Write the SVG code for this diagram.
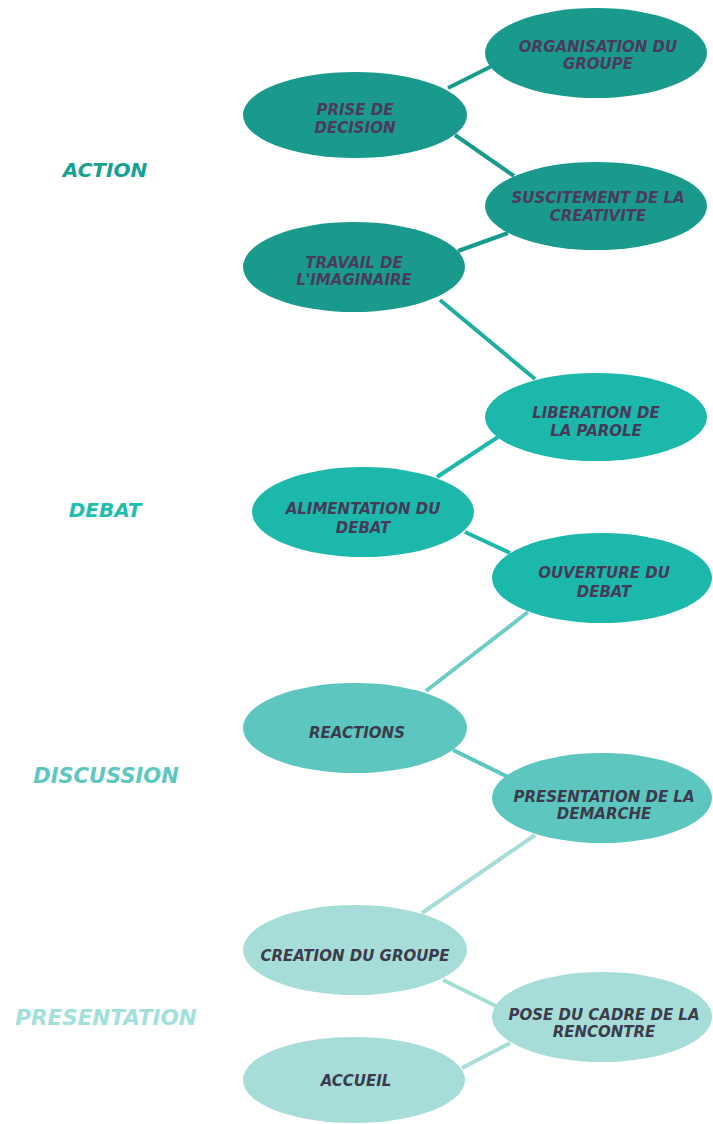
<svg xmlns="http://www.w3.org/2000/svg" width="713" height="1124" viewBox="0 0 713 1124">
<style>
.n text{font-family:"DejaVu Sans",Verdana,sans-serif;font-weight:bold;font-style:italic;font-size:15px;text-anchor:middle}
.a ellipse{fill:#1a9a8c}.a text{fill:#4a3a5c}
.d ellipse{fill:#1cb8ac}.d text{fill:#453a58}
.s ellipse{fill:#5cc6bf}.s text{fill:#3b3b4b}
.p ellipse{fill:#a6ddd9}.p text{fill:#3b3b4b}
.lbl{font-family:"DejaVu Sans",Verdana,sans-serif;font-weight:bold;font-style:italic;font-size:20px;text-anchor:middle}
#connectors line{stroke-width:4;stroke-linecap:butt}
</style>
<rect width="713" height="1124" fill="#ffffff"/>
<g id="connectors">
<line x1="448" y1="88" x2="492" y2="66" stroke="#1a9a8c"/>
<line x1="455" y1="135" x2="514" y2="176" stroke="#1a9a8c"/>
<line x1="458" y1="251" x2="508" y2="233" stroke="#1a9a8c"/>
<line x1="440" y1="300" x2="535" y2="379" stroke="#20ada2"/>
<line x1="437" y1="477" x2="498" y2="437" stroke="#1cb8ac"/>
<line x1="465" y1="532" x2="510" y2="553" stroke="#1cb8ac"/>
<line x1="528" y1="612" x2="426" y2="691" stroke="#6dcdc6"/>
<line x1="453" y1="750" x2="508" y2="777" stroke="#5cc6bf"/>
<line x1="535" y1="835" x2="422" y2="913" stroke="#a6ddd9"/>
<line x1="443" y1="980" x2="498" y2="1007" stroke="#a6ddd9"/>
<line x1="462" y1="1068" x2="510" y2="1043" stroke="#a6ddd9"/>
</g>
<text class="lbl" x="105" y="177" fill="#17a08f">ACTION</text>
<text class="lbl" x="105" y="517" fill="#1ebdb0">DEBAT</text>
<text class="lbl" x="106" y="783" fill="#5ec8c0" style="font-size:21px">DISCUSSION</text>
<text class="lbl" x="106" y="1025" fill="#a2e0dc" style="font-size:21.5px">PRESENTATION</text>
<g id="n-organisation" class="n a"><ellipse cx="596" cy="53" rx="111" ry="45"/><text x="598" y="52">ORGANISATION DU</text><text x="598" y="69">GROUPE</text></g>
<g id="n-prise" class="n a"><ellipse cx="355" cy="115" rx="112" ry="43"/><text x="355" y="115">PRISE DE</text><text x="355" y="133">DECISION</text></g>
<g id="n-suscitement" class="n a"><ellipse cx="596" cy="206" rx="111" ry="44"/><text x="598" y="203">SUSCITEMENT DE LA</text><text x="598" y="221">CREATIVITE</text></g>
<g id="n-travail" class="n a"><ellipse cx="354" cy="267" rx="111" ry="45"/><text x="354" y="268">TRAVAIL DE</text><text x="354" y="285">L'IMAGINAIRE</text></g>
<g id="n-liberation" class="n d"><ellipse cx="596" cy="417" rx="111" ry="44"/><text x="596" y="418">LIBERATION DE</text><text x="596" y="436">LA PAROLE</text></g>
<g id="n-alimentation" class="n d"><ellipse cx="363" cy="512" rx="111" ry="45"/><text x="363" y="514">ALIMENTATION DU</text><text x="363" y="533">DEBAT</text></g>
<g id="n-ouverture" class="n d"><ellipse cx="602" cy="578" rx="110" ry="45"/><text x="604" y="578">OUVERTURE DU</text><text x="604" y="597">DEBAT</text></g>
<g id="n-reactions" class="n s"><ellipse cx="355" cy="728" rx="112" ry="45"/><text x="357" y="738">REACTIONS</text></g>
<g id="n-demarche" class="n s"><ellipse cx="602" cy="798" rx="110" ry="45"/><text x="604" y="802">PRESENTATION DE LA</text><text x="604" y="819">DEMARCHE</text></g>
<g id="n-creation" class="n p"><ellipse cx="355" cy="950" rx="112" ry="45"/><text x="355" y="961">CREATION DU GROUPE</text></g>
<g id="n-pose" class="n p"><ellipse cx="602" cy="1017" rx="110" ry="45"/><text x="604" y="1020">POSE DU CADRE DE LA</text><text x="604" y="1037">RENCONTRE</text></g>
<g id="n-accueil" class="n p"><ellipse cx="354" cy="1080" rx="111" ry="43"/><text x="356" y="1086">ACCUEIL</text></g>
</svg>
